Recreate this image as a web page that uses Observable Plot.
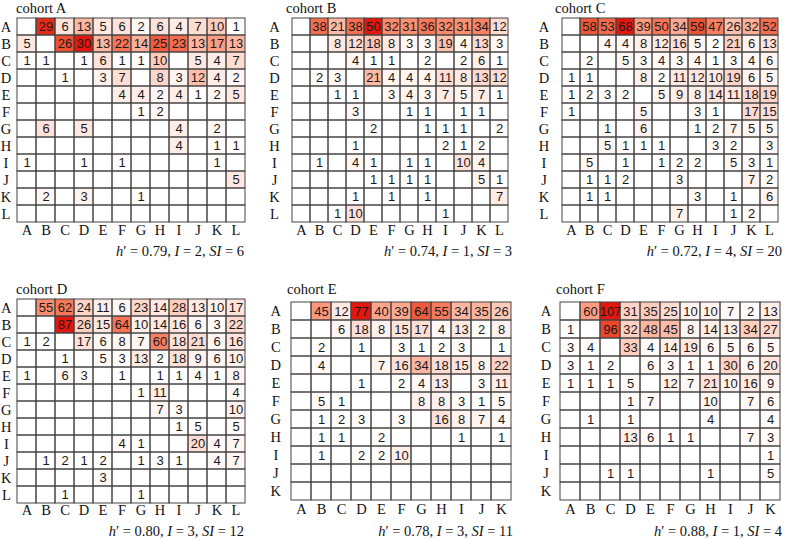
<!DOCTYPE html>
<html><head><meta charset="utf-8">
<script src="https://cdn.jsdelivr.net/npm/d3@7"></script>
<script src="https://cdn.jsdelivr.net/npm/@observablehq/plot@0.6"></script>
<style>
body{margin:0;background:#fff}
#chart{position:relative;width:785px;height:540px;overflow:hidden;background:#fff}
#chart svg{position:absolute;overflow:visible}
</style></head><body><div id="chart"></div>
<script>
const _ = null;
const cats12 = ["A","B","C","D","E","F","G","H","I","J","K","L"];
const cats11 = ["A","B","C","D","E","F","G","H","I","J","K"];

const cohortA = [
 [_,29,6,13,5,6,2,6,4,7,10,1],
 [5,_,26,30,13,22,14,25,23,13,17,13],
 [1,1,_,1,6,1,1,10,_,5,4,7],
 [_,_,1,_,3,7,_,8,3,12,4,2],
 [_,_,_,_,_,4,4,2,4,1,2,5],
 [_,_,_,_,_,_,1,2,_,_,_,_],
 [_,6,_,5,_,_,_,_,4,_,2,_],
 [_,_,_,_,_,_,_,_,4,_,1,1],
 [1,_,_,1,_,1,_,_,_,_,1,_],
 [_,_,_,_,_,_,_,_,_,_,_,5],
 [_,2,_,3,_,_,1,_,_,_,_,_],
 [_,_,_,_,_,_,_,_,_,_,_,_]
];
const cohortB = [
 [_,38,21,38,50,32,31,36,32,31,34,12],
 [_,_,8,12,18,8,3,3,19,4,13,3],
 [_,_,_,4,1,1,_,2,_,2,6,1],
 [_,2,3,_,21,4,4,4,11,8,13,12],
 [_,_,1,1,_,3,4,3,7,5,7,1],
 [_,_,_,3,_,_,1,1,_,1,1,_],
 [_,_,_,_,2,_,_,1,1,1,_,2],
 [_,_,_,1,_,_,_,_,2,1,2,_],
 [_,1,_,4,1,_,1,1,_,10,4,_],
 [_,_,_,_,1,1,1,1,_,_,5,1],
 [_,_,_,1,_,1,_,1,_,_,_,7],
 [_,_,1,10,_,_,_,_,1,_,_,_]
];
const cohortC = [
 [_,58,53,68,39,50,34,59,47,26,32,52],
 [_,_,4,4,8,12,16,5,2,21,6,13],
 [_,2,_,5,3,4,3,4,1,3,4,6],
 [1,1,_,_,8,2,11,12,10,19,6,5],
 [1,2,3,2,_,5,9,8,14,11,18,19],
 [1,_,_,_,5,_,_,3,1,_,17,15],
 [_,_,1,_,6,_,_,1,2,7,5,5],
 [_,_,5,1,1,1,_,_,3,2,_,3],
 [_,5,_,1,_,1,2,2,_,5,3,1],
 [_,1,1,2,_,_,3,_,_,_,7,2],
 [_,1,1,_,_,_,_,3,_,1,_,6],
 [_,_,_,_,_,_,7,_,_,1,2,_]
];
const cohortD = [
 [_,55,62,24,11,6,23,14,28,13,10,17],
 [_,_,87,26,15,64,10,14,16,6,3,22],
 [1,2,_,17,6,8,7,60,18,21,6,16],
 [_,_,1,_,5,3,13,2,18,9,6,10],
 [1,_,6,3,_,1,_,1,1,4,1,8],
 [_,_,_,_,_,_,1,11,_,_,_,4],
 [_,_,_,_,_,_,_,7,3,_,_,10],
 [_,_,_,_,_,_,_,_,1,5,_,5],
 [_,_,_,_,_,4,1,_,_,20,4,7],
 [_,1,2,1,2,_,1,3,1,_,4,7],
 [_,_,_,_,3,_,_,_,_,_,_,_],
 [_,_,1,_,_,_,1,_,_,_,_,_]
];
const cohortE = [
 [_,45,12,77,40,39,64,55,34,35,26],
 [_,_,6,18,8,15,17,4,13,2,8],
 [_,2,_,1,_,3,1,2,3,_,1],
 [_,4,_,_,7,16,34,18,15,8,22],
 [_,_,_,1,_,2,4,13,_,3,11],
 [_,5,1,_,_,_,8,8,3,1,5],
 [_,1,2,3,_,3,_,16,8,7,4],
 [_,1,1,_,2,_,_,_,1,_,1],
 [_,1,_,2,2,10,_,_,_,_,_],
 [_,_,_,_,_,_,_,_,_,_,_],
 [_,_,_,_,_,_,_,_,_,_,_]
];
const cohortF = [
 [_,60,107,31,35,25,10,10,7,2,13],
 [1,_,96,32,48,45,8,14,13,34,27],
 [3,4,_,33,4,14,19,6,5,6,5],
 [3,1,2,_,6,3,1,1,30,6,20],
 [1,1,1,5,_,12,7,21,10,16,9],
 [_,_,_,1,7,_,_,10,_,7,6],
 [_,1,_,1,_,_,_,4,_,_,4],
 [_,_,_,13,6,1,1,_,_,7,3],
 [_,_,_,_,_,_,_,_,_,_,1],
 [_,_,1,1,_,_,_,1,_,_,5],
 [_,_,_,_,_,_,_,_,_,_,_]
];

const titles = ["cohort A","cohort B","cohort C","cohort D","cohort E","cohort F"];
const hValues = ["0.79","0.74","0.72","0.80","0.78","0.88"];
const iValues = [2,1,4,3,3,1];
const siValues = [6,3,20,12,11,4];
const matrices = [cohortA,cohortB,cohortC,cohortD,cohortE,cohortF];
const categories = [cats12,cats12,cats12,cats12,cats11,cats11];

// layout (pixels)
const layout = [
 {gx0:16,  gx1:245, gy0:17,  gy1:223, tx:16,  ty:13,  sy:256, top:0,   bottom:264, lx:-10.5},
 {gx0:287, gx1:513, gy0:17,  gy1:223, tx:286, ty:13,  sy:256, top:0,   bottom:264, lx:-13},
 {gx0:556, gx1:783, gy0:17,  gy1:223, tx:555, ty:13,  sy:256, top:0,   bottom:264, lx:-12.5},
 {gx0:16,  gx1:245, gy0:299, gy1:503, tx:16,  ty:294, sy:535.5, top:270, bottom:540, lx:-10.2},
 {gx0:287, gx1:514, gy0:299, gy1:502, tx:287, ty:294, sy:535.5, top:270, bottom:540, lx:-11.7},
 {gx0:556, gx1:783, gy0:299, gy1:502, tx:556, ty:294, sy:535.5, top:270, bottom:540, lx:-10.4}
];

const serif = "'Liberation Serif','Times New Roman',serif";
const sans = "'Liberation Sans',Arial,sans-serif";
const redEnd = "#e3170d";
const colorInterp = t => d3.interpolateLab("#ffffff", redEnd)(Math.pow(t, 1.2));

const chart = document.getElementById("chart");

matrices.forEach((m, p) => {
  const cats = categories[p];
  const L = layout[p];
  const all = [];
  cats.forEach((r, i) => cats.forEach((c, j) => all.push({row: r, col: c, v: m[i][j]})));
  const filled = all.filter(d => d.v != null);
  const max = d3.max(filled, d => d.v);

  const svgLeft = Math.max(0, L.gx0 - 26);
  const svgTop = L.top;
  const width = L.gx1 + 2 - svgLeft;
  const height = L.bottom - svgTop;

  const svg = Plot.plot({
    width, height,
    marginLeft: L.gx0 - svgLeft,
    marginRight: 2,
    marginTop: L.gy0 - svgTop,
    marginBottom: L.bottom - L.gy1,
    x: {domain: cats, axis: null, padding: 0},
    y: {domain: cats, axis: null, padding: 0},
    color: {type: "linear", domain: [0, max], interpolate: colorInterp},
    style: {background: "transparent", fontFamily: serif, overflow: "visible"},
    marks: [
      Plot.cell(filled, {x: "col", y: "row", fill: "v", inset: 0}),
      Plot.cell(all, {x: "col", y: "row", fill: "none", stroke: "#444", strokeWidth: 1, inset: 0}),
      Plot.text(filled, {x: "col", y: "row", text: d => String(d.v), fill: "#1a1a1a",
        fontFamily: sans, fontSize: 13}),
      Plot.text(cats, {y: d => d, text: d => d, frameAnchor: "left", dx: L.lx, textAnchor: "middle",
        fontFamily: serif, fontSize: 14.5, fill: "#111"}),
      Plot.text(cats, {x: d => d, text: d => d, frameAnchor: "bottom", dy: 11.5,
        fontFamily: serif, fontSize: 14.5, fill: "#111"})
    ]
  });
  svg.style.left = svgLeft + "px";
  svg.style.top = svgTop + "px";

  const s = d3.select(svg);
  s.append("text")
    .attr("x", L.tx - svgLeft).attr("y", L.ty - svgTop)
    .attr("text-anchor", "start")
    .attr("font-family", serif).attr("font-size", 14.5).attr("fill", "#111")
    .text(titles[p]);
  const st = s.append("text")
    .attr("x", L.gx1 - 1 - svgLeft).attr("y", L.sy - svgTop)
    .attr("text-anchor", "end")
    .attr("font-family", serif).attr("font-size", 14.5).attr("fill", "#111");
  st.append("tspan").attr("font-style", "italic").text("h");
  st.append("tspan").text("\u2032 = " + hValues[p] + ", ");
  st.append("tspan").attr("font-style", "italic").text("I");
  st.append("tspan").text(" = " + iValues[p] + ", ");
  st.append("tspan").attr("font-style", "italic").text("SI");
  st.append("tspan").text(" = " + siValues[p]);

  chart.appendChild(svg);
});
</script></body></html>
